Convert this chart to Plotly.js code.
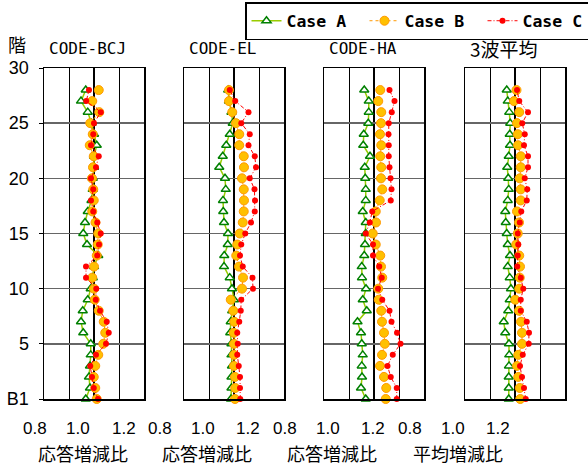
<!DOCTYPE html>
<html>
<head>
<meta charset="utf-8">
<script src="https://cdn.plot.ly/plotly-3.0.1.min.js"></script>
<style>html,body{margin:0;padding:0;background:#fff;}</style>
</head>
<body>
<div id="chart" style="width:588px;height:466px;"></div>
<script>
// Floors (B1 = 0) and axis ticks
const floors = [0,1,2,3,4,5,6,7,8,9,10,11,12,13,14,15,16,17,18,19,20,21,22,23,24,25,26,27,28];
const floorTickVals = [0,5,10,15,20,25,30];
const floorTickText = ['B1','5','10','15','20','25','30'];
const ratioTickVals = [0.8,0.9,1.0,1.1,1.2];
const ratioLabels = ['0.8','1.0','1.2'];

const panelTitles = ['CODE-BCJ','CODE-EL','CODE-HA','3波平均'];
const axisTitles = ['応答増減比','応答増減比','応答増減比','平均増減比'];
const caseNames = ['Case A','Case B','Case C'];

// Response ratios per floor (B1 .. 28F)
const bcjA = [0.967,0.984,0.980,0.984,0.987,0.987,0.957,0.948,0.955,0.975,0.987,0.995,1.000,1.017,0.972,0.957,0.964,0.975,0.990,0.995,0.995,1.000,1.000,1.011,1.000,0.990,0.975,0.948,0.967];
const bcjB = [1.011,1.005,0.999,1.005,1.017,1.037,1.045,1.039,1.019,1.003,1.000,0.993,1.000,1.011,1.015,1.017,1.006,0.993,0.999,0.997,0.992,0.996,0.999,0.983,0.995,0.985,1.021,0.993,1.019];
const bcjC = [1.016,0.999,0.992,0.985,1.008,1.048,1.059,1.051,1.024,1.007,1.009,0.968,0.968,1.013,1.020,1.027,1.013,0.997,0.988,0.997,0.988,1.008,1.019,0.988,0.997,1.000,1.027,0.969,0.980];

const elA = [0.988,0.990,0.990,0.992,0.990,0.990,0.985,0.987,0.993,1.000,0.992,0.983,0.960,0.961,0.975,0.976,0.960,0.957,0.956,0.967,0.964,0.941,0.955,0.969,0.983,0.995,0.990,0.980,0.977];
const elB = [1.004,1.005,1.004,1.000,1.000,1.000,0.999,1.001,0.997,0.987,1.032,1.036,1.020,1.009,1.013,1.023,1.035,1.039,1.040,1.039,1.032,1.040,1.039,1.021,1.021,1.008,0.993,0.980,0.980];
const elC = [1.025,1.024,1.024,1.019,1.013,1.015,1.013,1.021,1.027,1.029,1.076,1.074,1.035,1.024,1.029,1.045,1.068,1.083,1.084,1.082,1.063,1.088,1.083,1.058,1.063,1.029,1.058,1.005,0.983];

const haA = [0.967,0.948,0.952,0.951,0.955,0.951,0.948,0.934,0.971,0.955,0.968,0.952,0.951,0.961,0.964,0.967,0.967,0.955,0.967,0.967,0.965,0.963,0.984,0.957,0.959,0.977,0.979,0.979,0.961];
const haB = [1.047,1.049,1.040,1.024,1.032,1.043,1.040,1.032,1.029,1.019,1.017,1.033,1.028,1.025,1.007,0.995,1.008,1.007,1.023,1.033,1.028,1.029,1.025,1.029,1.024,1.028,1.029,1.017,1.025];
const haC = [1.091,1.091,1.067,1.054,1.075,1.106,1.092,1.070,1.062,1.033,1.016,1.031,1.021,0.996,0.996,0.967,0.983,0.993,1.067,1.070,1.066,1.062,1.059,1.059,1.058,1.059,1.071,1.082,1.062];

const avgA = [0.975,0.975,0.975,0.976,0.977,0.976,0.961,0.955,0.973,0.979,0.984,0.979,0.971,0.980,0.971,0.967,0.963,0.961,0.971,0.975,0.973,0.969,0.975,0.980,0.979,0.981,0.977,0.971,0.967];
const avgB = [1.021,1.019,1.013,1.008,1.013,1.028,1.028,1.024,1.016,1.001,1.017,1.019,1.020,1.017,1.005,1.011,1.016,1.008,1.023,1.023,1.019,1.023,1.023,1.012,1.011,1.008,1.017,0.996,1.006];
const avgC = [1.043,1.036,1.028,1.020,1.031,1.055,1.056,1.047,1.023,1.023,1.033,1.023,1.009,1.011,1.013,1.011,1.019,1.025,1.047,1.049,1.039,1.052,1.052,1.036,1.039,1.029,1.052,1.017,1.008];

const panelData = [
  [bcjA, bcjB, bcjC],
  [elA, elB, elC],
  [haA, haB, haC],
  [avgA, avgB, avgC]
];

// ---- page geometry (pixels) ----
const W = 588, H = 466;
const M = {l: 44, r: 23, t: 68, b: 67};
const PW = W - M.l - M.r, PH = H - M.t - M.b;
const px2x = px => (px - M.l) / PW;
const py2y = py => (H - M.b - py) / PH;
const panelPx = [[44,144],[184,284],[324,424],[465,565]];
// the ratio labels under each panel run as one evenly spaced row
const labelCenters = [[34.5,77.5,123.5],[159.5,202.5,247.5],[284.5,327.5,372.5],[409.5,452.5,497.5]];
const titleCenters = [83,207,332,458];

const MONO = '"DejaVu Sans Mono", "Liberation Mono", monospace';
const CJK = '"Noto Sans CJK JP", "Noto Sans", sans-serif';
const SANS = '"Liberation Sans", Arial, sans-serif';

const styles = [
  {mode: 'lines+markers',
   line: {color: '#99cc00', width: 1.5},
   marker: {symbol: 'triangle-up', size: 8, color: '#ffffff', line: {color: '#008000', width: 1.5}}},
  {mode: 'lines+markers',
   line: {color: '#ff9900', width: 1, dash: 'dot'},
   marker: {symbol: 'circle', size: 9, color: '#ffc000', line: {color: '#ff9900', width: 1}}},
  {mode: 'lines+markers',
   line: {color: '#ff0000', width: 1, dash: '4px,2px,1px,2px'},
   marker: {symbol: 'circle', size: 6, color: '#ff0000', line: {width: 0}}}
];

const traces = [];
const layout = {
  width: W, height: H,
  margin: {l: M.l, r: M.r, t: M.t, b: M.b, autoexpand: false},
  paper_bgcolor: '#ffffff', plot_bgcolor: '#ffffff',
  showlegend: true,
  legend: {
    orientation: 'h', x: px2x(245), xanchor: 'left', y: py2y(2), yanchor: 'top',
    bgcolor: '#ffffff', bordercolor: '#000000', borderwidth: 1.5,
    font: {family: MONO, size: 16.5, color: '#000', weight: 'bold'},
    entrywidth: 73, entrywidthmode: 'pixels', traceorder: 'normal'
  },
  shapes: [], annotations: []
};

panelData.forEach((series, p) => {
  const n = p + 1;
  const xa = 'x' + (n === 1 ? '' : n), ya = 'y' + (n === 1 ? '' : n);
  series.forEach((vals, k) => {
    traces.push(Object.assign({
      type: 'scatter', x: vals, y: floors, name: caseNames[k],
      xaxis: xa, yaxis: ya, cliponaxis: false,
      showlegend: p === 0, hoverinfo: 'skip'
    }, JSON.parse(JSON.stringify(styles[k]))));
  });

  layout['xaxis' + (n === 1 ? '' : n)] = {
    domain: [px2x(panelPx[p][0]), px2x(panelPx[p][1])],
    anchor: ya, range: [0.8, 1.2],
    tickmode: 'array', tickvals: ratioTickVals, showticklabels: false,
    showgrid: true, gridcolor: '#000000', gridwidth: 1,
    zeroline: false, showline: true, mirror: true, linecolor: '#000000', linewidth: 1.5,
    ticks: '', fixedrange: true
  };
  layout['yaxis' + (n === 1 ? '' : n)] = {
    domain: [0, 1], anchor: xa, range: [0, 30],
    tickmode: 'array', tickvals: floorTickVals, ticktext: floorTickText,
    showgrid: true, gridcolor: '#666666', gridwidth: 1.5,
    zeroline: false, showline: true, mirror: true, linecolor: '#000000', linewidth: 1.5,
    showticklabels: n === 1, ticks: n === 1 ? 'outside' : '', ticklen: 4, tickcolor: '#000',
    ticklabelstandoff: 6,
    tickfont: {family: SANS, size: 18, color: '#000'}, fixedrange: true
  };

  // heavier reference line at ratio 1.0
  layout.shapes.push({
    type: 'line', layer: 'below', xref: xa, yref: ya + ' domain',
    x0: 1, x1: 1, y0: 0, y1: 1, line: {color: '#000000', width: 2}
  });

  // ratio labels
  ratioLabels.forEach((txt, i) => {
    layout.annotations.push({
      text: txt, xref: 'paper', yref: 'paper',
      x: px2x(labelCenters[p][i]), y: py2y(429), xanchor: 'center', yanchor: 'middle',
      showarrow: false, borderpad: 0, font: {family: SANS, size: 17, color: '#000'}
    });
  });

  layout.annotations.push({
    text: panelTitles[p], xref: 'paper', yref: 'paper',
    x: px2x(panelPx[p][0] + 3), y: py2y(49), xanchor: 'left', yanchor: 'middle',
    showarrow: false, font: {family: p === 3 ? CJK : MONO, size: p === 3 ? 19 : 16, color: '#000'}
  });
  layout.annotations.push({
    text: axisTitles[p], xref: 'paper', yref: 'paper',
    x: px2x(titleCenters[p]), y: py2y(453), xanchor: 'center', yanchor: 'middle',
    showarrow: false, borderpad: 0, font: {family: CJK, size: 18, color: '#000'}
  });
});

layout.annotations.push({
  text: '階', xref: 'paper', yref: 'paper',
  x: px2x(17), y: py2y(44), xanchor: 'center', yanchor: 'middle',
  showarrow: false, font: {family: CJK, size: 18, color: '#000'}
});

Plotly.newPlot('chart', traces, layout, {staticPlot: true, displayModeBar: false});
</script>
</body>
</html>
